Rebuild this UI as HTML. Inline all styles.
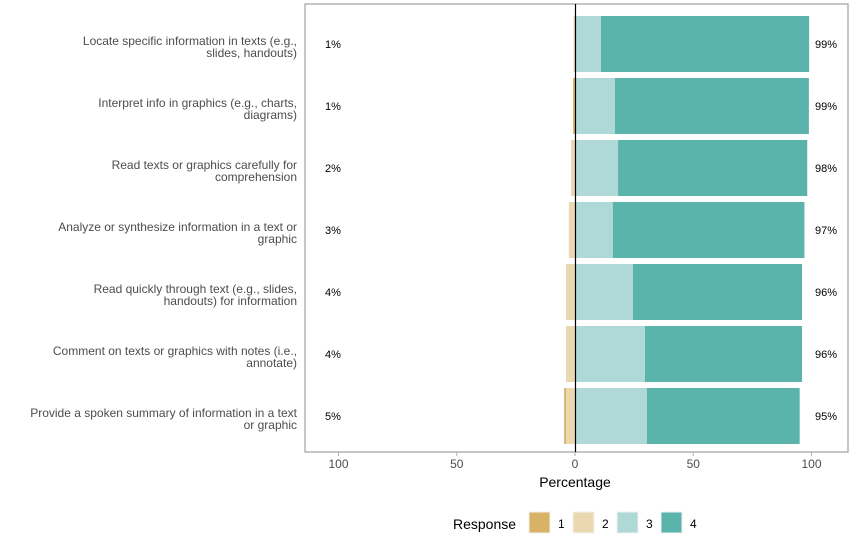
<!DOCTYPE html>
<html><head><meta charset="utf-8"><style>
body{margin:0;background:#fff;font-family:"Liberation Sans",Arial,sans-serif}
svg text{font-family:"Liberation Sans",Arial,sans-serif}
</style></head><body>
<svg width="856" height="549" xmlns="http://www.w3.org/2000/svg">
<g id="plot"></g>
</svg>
<script>
const items=[["Locate specific information in texts (e.g.,","slides, handouts)"],["Interpret info in graphics (e.g., charts,","diagrams)"],["Read texts or graphics carefully for","comprehension"],["Analyze or synthesize information in a text or","graphic"],["Read quickly through text (e.g., slides,","handouts) for information"],["Comment on texts or graphics with notes (i.e.,","annotate)"],["Provide a spoken summary of information in a text","or graphic"]];
const r1=[0,0.8,0,0,0,0,0.8];
const r2=[0.6,0,1.7,2.6,3.8,3.8,3.8];
const r3=[11,16.9,18.2,16,24.5,29.6,30.4];
const r4=[88,82,80,81,71.5,66.4,64.6];
const leftLabels=["1%","1%","2%","3%","4%","4%","5%"];
const rightLabels=["99%","99%","98%","97%","96%","96%","95%"];
const ticks=[-100,-50,0,50,100];
const colors=["#d8b365","#ebd8b2","#aed9d6","#5ab4ac"];
const NS="http://www.w3.org/2000/svg";
const g=document.getElementById('plot');
const x=v=>575+v*2.365;
const yc=i=>44+i*62;
function mk(t,a,p){const e=document.createElementNS(NS,t);for(const k in a)e.setAttribute(k,a[k]);(p||g).appendChild(e);return e;}
const panel=mk('rect',{x:305,y:4,width:543,height:448,fill:'#fff',stroke:'#b3b3b3','stroke-width':1.5});


items.forEach((lab,i)=>{
  const y0=yc(i)-28,h=56;
  let neg=0;
  [[r2[i],1],[r1[i],0]].forEach(([v,c])=>{ if(v>0){const r=mk('rect',{x:x(-(neg+v)),y:y0,width:v*2.365,height:h,fill:colors[c]});} neg+=v;});
  let pos=0;
  [[r3[i],2],[r4[i],3]].forEach(([v,c])=>{const r=mk('rect',{x:x(pos),y:y0,width:v*2.365,height:h,fill:colors[c]});pos+=v;});
  const t=mk('text',{x:297,y:yc(i)+1,'text-anchor':'end','font-size':12,fill:'#4d4d4d'});
  
  
  mk('tspan',{x:297,dy:0},t).textContent=lab[0];
  mk('tspan',{x:297,dy:12},t).textContent=lab[1];
  const lt=mk('text',{x:333,y:yc(i)+4,'text-anchor':'middle','font-size':11,fill:'#000'});lt.textContent=leftLabels[i];
  
  
  const rt=mk('text',{x:826,y:yc(i)+4,'text-anchor':'middle','font-size':11,fill:'#000'});rt.textContent=rightLabels[i];
  
  
});
const zl=mk('line',{x1:575.5,x2:575.5,y1:4,y2:452,stroke:'#000','stroke-width':1.2});


ticks.forEach(v=>{mk('line',{x1:x(v),x2:x(v),y1:452,y2:456,stroke:'#b3b3b3'});const t=mk('text',{x:x(v),y:468,'text-anchor':'middle','font-size':12,fill:'#4d4d4d'});t.textContent=Math.abs(v);
  
  });
const xt=mk('text',{x:575,y:487,'text-anchor':'middle','font-size':14,fill:'#000'});xt.textContent='Percentage';


const lg=mk('text',{x:453,y:529,'font-size':14,fill:'#000'});lg.textContent='Response';


colors.forEach((c,k)=>{const r=mk('rect',{x:529+k*44,y:512,width:21,height:21,fill:c,stroke:'#f2f2f2'});
  
  
  const t=mk('text',{x:558+k*44,y:528,'font-size':12,fill:'#000'});t.textContent=k+1;
  
  });
</script>
</body></html>
